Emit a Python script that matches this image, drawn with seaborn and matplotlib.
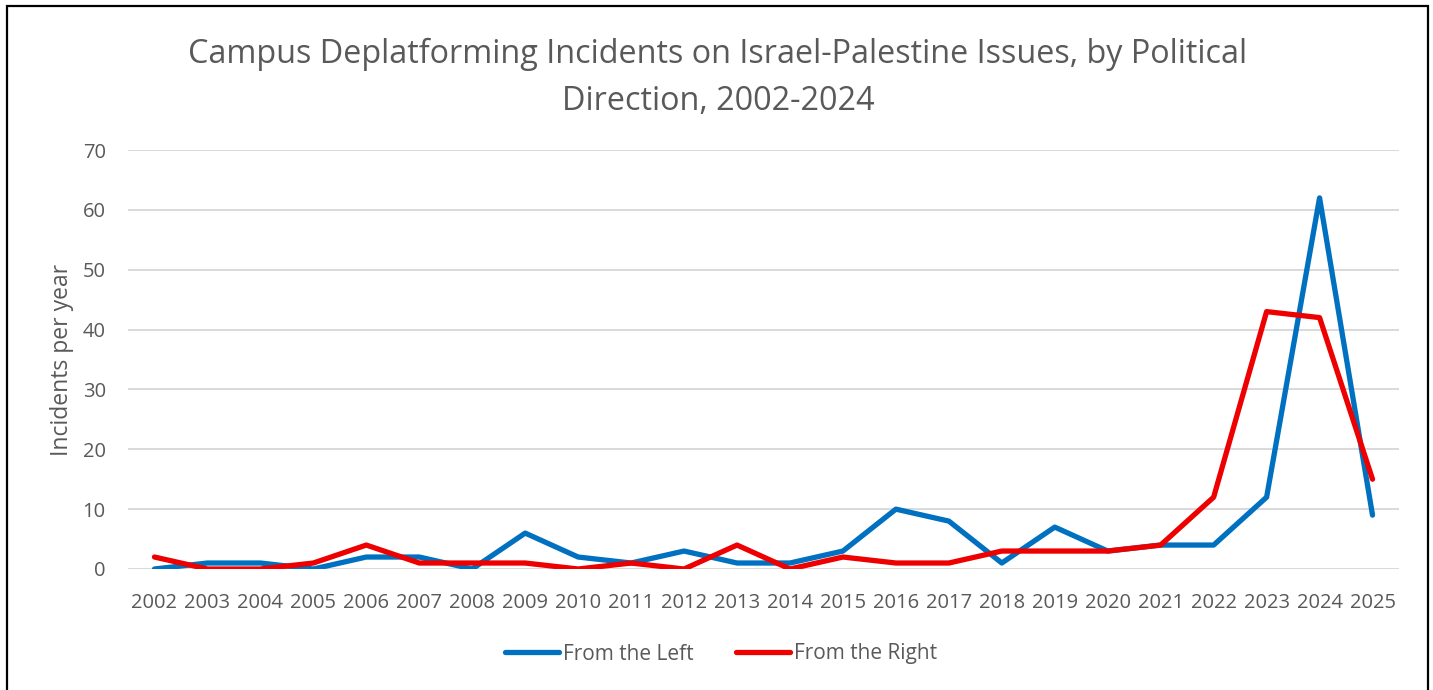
import matplotlib
matplotlib.use("Agg")
import matplotlib.pyplot as plt
import matplotlib.patches as mpatches
import pandas as pd
import seaborn as sns

years = list(range(2002, 2026))
from_left = [0, 1, 1, 0, 2, 2, 0, 6, 2, 1, 3, 1, 1, 3, 10, 8, 1, 7, 3, 4, 4, 12, 62, 9]
from_right = [2, 0, 0, 1, 4, 1, 1, 1, 0, 1, 0, 4, 0, 2, 1, 1, 3, 3, 3, 4, 12, 43, 42, 15]
series_names = ["From the Left", "From the Right"]
series_colors = ["#0070C0", "#EE0000"]
y_ticks = [0, 10, 20, 30, 40, 50, 60, 70]

sns.set_theme(style="white")
plt.rcParams["font.family"] = ["Open Sans", "DejaVu Sans"]

text_gray = "#595959"
grid_gray = "#D9D9D9"

df = pd.DataFrame({
    "pos": list(range(len(years))) * 2,
    "value": from_left + from_right,
    "series": [series_names[0]] * len(years) + [series_names[1]] * len(years),
})

W, H = 1433, 690
fig = plt.figure(figsize=(W / 100, H / 100), dpi=100)
ax = fig.add_axes([128 / W, (H - 569) / H, (1399 - 128) / W, (569 - 150) / H])

sns.lineplot(
    data=df, x="pos", y="value", hue="series",
    palette=dict(zip(series_names, series_colors)),
    linewidth=3.8, ax=ax, legend=False,
    solid_capstyle="round", solid_joinstyle="round",
)

ax.set_xlim(-0.5, len(years) - 0.5)
ax.set_ylim(0, 70)
ax.set_yticks(y_ticks)
ax.set_xticks(range(len(years)))
ax.set_xticklabels([str(y) for y in years])
ax.tick_params(axis="both", length=0, labelsize=14.5, labelcolor=text_gray)
ax.tick_params(axis="x", pad=17)
ax.tick_params(axis="y", pad=16)
for y in y_ticks:
    ax.axhline(y, color=grid_gray, linewidth=1.4, zorder=0)
for s in ax.spines.values():
    s.set_visible(False)
ax.set_xlabel("")
ax.set_ylabel("Incidents per year", fontsize=16.5, color=text_gray, labelpad=6)

fig.text(718 / W, 1 - 54 / H, "Campus Deplatforming Incidents on Israel-Palestine Issues, by Political",
         ha="center", va="center", fontsize=23.3, color=text_gray)
fig.text(718 / W, 1 - 101 / H, "Direction, 2002-2024",
         ha="center", va="center", fontsize=23.3, color=text_gray)

handles = [plt.Line2D([], [], color=c, linewidth=3.8, solid_capstyle="round") for c in series_colors]
fig.legend(handles, series_names, loc="center", bbox_to_anchor=(721 / W, 1 - 654 / H),
           ncol=2, frameon=False, fontsize=15, labelcolor=text_gray,
           handlelength=2.6, handletextpad=0.2, columnspacing=2.0)

# outer chart frame
frame = mpatches.Rectangle((7 / W, -0.05), (1428 - 7) / W, 1 - 6 / H + 0.05,
                           transform=fig.transFigure, fill=False,
                           edgecolor="black", linewidth=1.6, clip_on=False)
fig.patches.append(frame)

fig.savefig("out.png", dpi=100, facecolor="white")
